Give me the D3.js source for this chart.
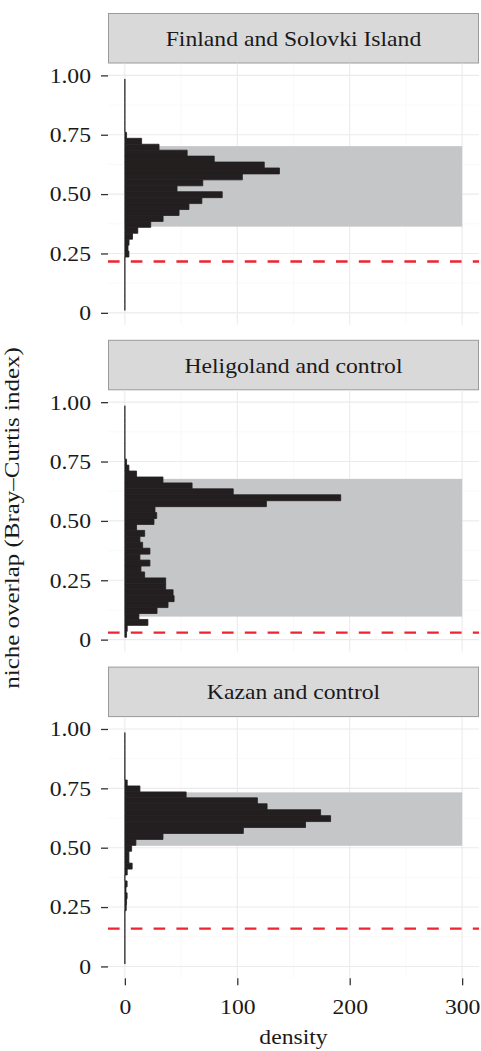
<!DOCTYPE html>
<html>
<head>
<meta charset="utf-8">
<script src="https://cdn.jsdelivr.net/npm/d3@7"></script>
<style>
  html, body { margin: 0; padding: 0; background: #fff; }
  svg text { font-family: 'Liberation Serif', 'Times New Roman', serif; fill: #1a1a1a; }
</style>
</head>
<body>
<svg id="chart" width="481" height="1051"></svg>
<script>
  // facet titles
  const facetNames = ['Finland and Solovki Island', 'Heligoland and control', 'Kazan and control'];

  // lower edge of each histogram bin (bin width 0.025), shared by the facets
  const binWidth = 0.025;
  const binStarts = [
    0.010, 0.035, 0.060, 0.085, 0.110, 0.135, 0.160, 0.185, 0.210, 0.235,
    0.260, 0.285, 0.310, 0.335, 0.360, 0.385, 0.410, 0.435, 0.460, 0.485,
    0.510, 0.535, 0.560, 0.585, 0.610, 0.635, 0.660, 0.685, 0.710, 0.735,
    0.760, 0.785, 0.810, 0.835, 0.860, 0.885, 0.910, 0.935, 0.960
  ];

  // density per bin, bottom to top
  const densityFinland = [
    0, 0, 0, 0, 0, 0, 0, 0, 0, 3.6,
    2.8, 3.7, 6.8, 11.5, 23, 34, 48.2, 57, 68.5, 86.6,
    46.4, 69.3, 104.5, 137.5, 124, 79.5, 55.4, 30.4, 14.9, 1.5,
    0, 0, 0, 0, 0, 0, 0, 0, 0
  ];
  const densityHeligoland = [
    1.5, 2.1, 20.5, 12.5, 28.6, 38.4, 43.8, 42.9, 36.3, 36.3,
    17.6, 14.3, 22.3, 13.4, 22.3, 15.8, 13.4, 17.6, 10.4, 25.9,
    28.3, 26.8, 125.9, 192, 96.4, 59.8, 33.9, 10.4, 3.6, 1.5,
    0, 0, 0, 0, 0, 0, 0, 0, 0
  ];
  const densityKazan = [
    0, 0, 0, 0, 0, 0, 0, 0, 0, 1.2,
    1.5, 2, 1, 2, 0, 2.1, 6.5, 3.6, 3.6, 6,
    9.8, 33.9, 105.4, 160.7, 183, 174.1, 126.5, 117.9, 54.5, 13.4,
    2.1, 0, 0, 0, 0, 0, 0, 0, 0
  ];

  // grey band (observed overlap range) and red null threshold per facet
  const bandLow = [0.363, 0.097, 0.508];
  const bandHigh = [0.702, 0.677, 0.733];
  const bandMax = 300;
  const thresholds = [0.216, 0.0295, 0.159];

  const yTicks = [0, 0.25, 0.5, 0.75, 1];
  const yTickLabels = ['0', '0.25', '0.50', '0.75', '1.00'];
  const yMinorTicks = [0.125, 0.375, 0.625, 0.875];
  const xTicks = [0, 100, 200, 300];
  const xTickLabels = ['0', '100', '200', '300'];
  const xMinorTicks = [50, 150, 250];

  const densities = [densityFinland, densityHeligoland, densityKazan];

  const BAR = '#231f20';
  const BAND = '#c5c6c8';
  const RED = '#ee2431';
  const STRIP_FILL = '#d9d9da';
  const STRIP_LINE = '#9a9a9a';
  const GRID = '#ebebeb';
  const GRID_MINOR = '#f5f5f5';
  const FONT_SIZE = 21.5;
  // the reference face is a little wider than Liberation Serif
  const WIDEN = 1.1;

  const svg = d3.select('#chart');

  const left = 108;
  const right = 479;
  const firstStripTop = 13;
  const facetStep = 326.8;
  const stripH = 50.5;
  const panelH = 261.2;

  const x = d3.scaleLinear().domain([-15, 315]).range([left, right]);

  facetNames.forEach((name, i) => drawFacet(i));
  drawTitles();

  function drawFacet(i) {
    const stripTop = firstStripTop + i * facetStep;
    const panelTop = stripTop + stripH;
    const panelBottom = panelTop + panelH;
    const y = d3.scaleLinear().domain([-0.05, 1.05]).range([panelBottom, panelTop]);
    const g = svg.append('g').attr('class', 'facet');

    // strip
    g.append('rect')
      .attr('x', left + 0.5)
      .attr('y', stripTop + 0.5)
      .attr('width', right - left - 1)
      .attr('height', stripH - 1)
      .attr('fill', STRIP_FILL)
      .attr('stroke', STRIP_LINE)
      .attr('stroke-width', 1);

    g.append('text')
      .attr('x', (left + right) / 2)
      .attr('y', stripTop + stripH / 2)
      .attr('dy', '0.35em')
      .attr('text-anchor', 'middle')
      .style('font-size', FONT_SIZE + 'px')
      .text(facetNames[i])
      .call(widen, WIDEN);

    // grid
    const grid = g.append('g');
    grid.selectAll('.ymin').data(yMinorTicks).join('line')
      .attr('x1', left).attr('x2', right)
      .attr('y1', d => y(d)).attr('y2', d => y(d))
      .attr('stroke', GRID_MINOR).attr('stroke-width', 0.6);
    grid.selectAll('.xmin').data(xMinorTicks).join('line')
      .attr('y1', panelTop).attr('y2', panelBottom)
      .attr('x1', d => x(d)).attr('x2', d => x(d))
      .attr('stroke', GRID_MINOR).attr('stroke-width', 0.6);
    grid.selectAll('.ymaj').data(yTicks).join('line')
      .attr('x1', left).attr('x2', right)
      .attr('y1', d => y(d)).attr('y2', d => y(d))
      .attr('stroke', GRID).attr('stroke-width', 1.1);
    grid.selectAll('.xmaj').data(xTicks).join('line')
      .attr('y1', panelTop).attr('y2', panelBottom)
      .attr('x1', d => x(d)).attr('x2', d => x(d))
      .attr('stroke', GRID).attr('stroke-width', 1.1);

    // grey band
    g.append('rect')
      .attr('x', x(0))
      .attr('width', x(bandMax) - x(0))
      .attr('y', y(bandHigh[i]))
      .attr('height', y(bandLow[i]) - y(bandHigh[i]))
      .attr('fill', BAND);

    // histogram as paths so empty bins still leave their outline
    const bins = binStarts.map((b, k) => ({ start: b, value: densities[i][k] }));
    g.append('g').selectAll('path').data(bins).join('path')
      .attr('d', d => {
        const x0 = x(0), x1 = x(d.value);
        const y0 = y(d.start), y1 = y(d.start + binWidth);
        return `M${x0},${y0}H${x1}V${y1}H${x0}Z`;
      })
      .attr('fill', BAR)
      .attr('stroke', BAR)
      .attr('stroke-width', 0.8);

    // threshold
    g.append('line')
      .attr('x1', left).attr('x2', right)
      .attr('y1', y(thresholds[i])).attr('y2', y(thresholds[i]))
      .attr('stroke', RED)
      .attr('stroke-width', 2.4)
      .attr('stroke-dasharray', '11.6 11.2');

    // y axis
    const yAxis = d3.axisLeft(y)
      .tickValues(yTicks)
      .tickFormat((d, k) => yTickLabels[k])
      .tickSize(7)
      .tickPadding(10);

    const ya = g.append('g')
      .attr('transform', `translate(${left},0)`)
      .call(yAxis);
    styleAxis(ya);

    if (i === facetNames.length - 1) {
      const xAxis = d3.axisBottom(x)
        .tickValues(xTicks)
        .tickFormat((d, k) => xTickLabels[k])
        .tickSize(7)
        .tickPadding(13);

      const xa = g.append('g')
        .attr('transform', `translate(0,${panelBottom})`)
        .call(xAxis);
      styleAxis(xa);
    }
  }

  function styleAxis(axis) {
    axis.select('.domain').remove();
    axis.selectAll('.tick line')
      .attr('stroke', '#333')
      .attr('stroke-width', 1.3);
    axis.selectAll('.tick text')
      .attr('fill', '#1a1a1a')
      .style('font-size', FONT_SIZE + 'px')
      .style('font-family', "'Liberation Serif', 'Times New Roman', serif")
      .call(widen, WIDEN);
  }

  function widen(sel, factor) {
    sel.each(function() {
      const len = this.getComputedTextLength();
      d3.select(this)
        .attr('textLength', len * factor)
        .attr('lengthAdjust', 'spacingAndGlyphs');
    });
  }

  function drawTitles() {
    svg.append('text')
      .attr('x', (left + right) / 2)
      .attr('y', 1044)
      .attr('text-anchor', 'middle')
      .style('font-size', FONT_SIZE + 'px')
      .text('density')
      .call(widen, WIDEN);

    svg.append('text')
      .attr('transform', 'translate(19,518) rotate(-90)')
      .attr('text-anchor', 'middle')
      .style('font-size', FONT_SIZE + 'px')
      .text('niche overlap (Bray–Curtis index)')
      .call(widen, 1.16);
  }
</script>
</body>
</html>
